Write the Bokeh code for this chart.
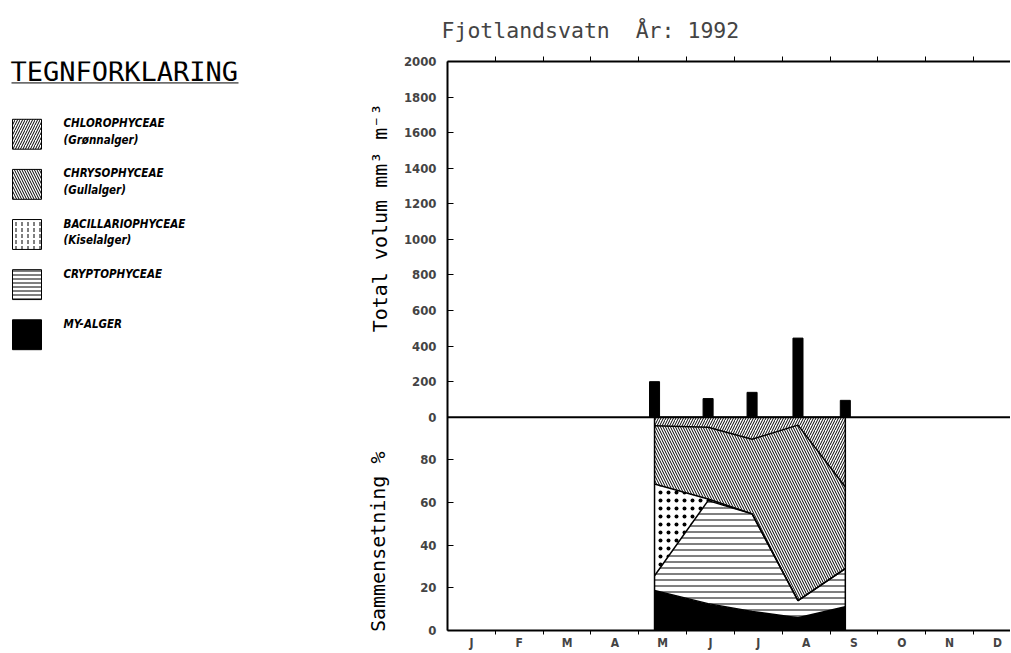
import math
from bokeh.plotting import figure
from bokeh.layouts import row
from bokeh.models import Range1d, FixedTicker, Span, ColumnDataSource, LinearAxis
from bokeh.core.properties import value
from bokeh.embed import file_html
from bokeh.resources import INLINE

# ---------------- data ----------------
month_labels = ["J", "F", "M", "A", "M", "J", "J", "A", "S", "O", "N", "D"]
# sampling dates, in months from 1 January
sample_month = [4.33, 5.45, 6.37, 7.33, 8.32]
# total algal volume, mm3 m-3
total_volume = [200, 105, 140, 445, 95]
# composition, percent (bottom to top of stack)
my_alger = [18.8, 12.6, 8.9, 6.0, 11.2]
cryptophyceae = [6.9, 48.3, 45.8, 8.0, 17.8]
bacillariophyceae = [43.0, 0.8, 0.0, 0.0, 0.0]
chrysophyceae = [27.3, 33.6, 35.0, 82.3, 38.3]
chlorophyceae = [4.0, 4.7, 10.3, 3.7, 32.7]

vol_ticks = list(range(0, 2001, 200))
pct_ticks = [0, 20, 40, 60, 80]

legend_title = "TEGNFORKLARING"
legend_line1 = ["CHLOROPHYCEAE", "CHRYSOPHYCEAE", "BACILLARIOPHYCEAE", "CRYPTOPHYCEAE", "MY-ALGER"]
legend_line2 = ["(Grønnalger)", "(Gullalger)", "(Kiselalger)", "", ""]

title_text = "Fjotlandsvatn\u00a0\u00a0År:\u00a01992"
vol_label = "Total volum mm³ m⁻³"
pct_label = "Sammensetning %"

# ---------------- styles / layout ----------------
MONO = "DejaVu Sans Mono"
NARROW = "'Liberation Sans Narrow', 'DejaVu Sans Condensed', 'DejaVu Sans', sans-serif"
fills = ["black", "white", "white", "white", "white"]
hatches = [" ", "-", ".", "\\", "/"]
hscales = [6, 6, 8, 5, 5]
hweights = [1, 1, 1.0, 1, 1]

LEFT_W = 400          # legend + axis-title panel width
BORDER_L = 46         # chart left border (tick labels)
FRAME_W = 564
TOP_B, TOP_H, BOT_H, BOT_B = 61, 357, 214, 20
MONTH_PX = 47.9
x_end = FRAME_W / MONTH_PX
pct_end = 100 * (TOP_H + BOT_H) / BOT_H
vol_start = -2000 * BOT_H / TOP_H
boundaries = list(range(1, 12))
centers = [i + 0.5 for i in range(12)]
FIG_H = TOP_B + TOP_H + BOT_H + BOT_B

# ---------------- legend panel (frames of a row are aligned) ----------------
leg = figure(width=LEFT_W, height=FIG_H, x_range=Range1d(0, LEFT_W),
             y_range=Range1d(TOP_B + TOP_H + BOT_H, TOP_B),
             output_backend="svg", toolbar_location=None,
             min_border_left=0, min_border_right=0,
             min_border_top=TOP_B, min_border_bottom=BOT_B)
leg.axis.visible = False
leg.grid.visible = False
leg.outline_line_color = None

leg.text(x=[10], y=[71], text=[legend_title], text_font=value(MONO), text_font_size="27px",
         text_baseline="middle", text_color="black")
leg.segment(x0=[11], y0=[82.5], x1=[238], y1=[82.5], line_color="black", line_width=1)

sw_top = [119 + 50.3 * i for i in range(5)]
leg_order = [4, 3, 2, 1, 0]  # chloro, chryso, bacill, crypto, my
leg_hatch = [" ", "-", ":", "\\", "/"]
leg_scale = [6, 4, 6, 5, 5]
for i, top_y in enumerate(sw_top):
    k = leg_order[i]
    leg.rect(x=[26.5], y=[top_y + 15], width=29, height=30,
             fill_color=fills[k], line_color="black", line_width=1,
             hatch_pattern=leg_hatch[k], hatch_scale=leg_scale[k],
             hatch_weight=1, hatch_color="black")
    leg.text(x=[63], y=[top_y + 4], text=[legend_line1[i]], text_font=value(NARROW),
             text_font_size="11.5px", text_font_style="bold italic", text_baseline="middle")
    if legend_line2[i]:
        leg.text(x=[63], y=[top_y + 21], text=[legend_line2[i]], text_font=value(NARROW),
                 text_font_size="11.5px", text_font_style="bold italic", text_baseline="middle")

# y-axis titles (rotated), placed left of the chart's tick labels
leg.text(x=[379], y=[218], text=[vol_label], angle=math.pi / 2, text_align="center",
         text_baseline="middle", text_font=value(MONO), text_font_size="20px")
leg.text(x=[377], y=[543], text=[pct_label], angle=math.pi / 2, text_align="center",
         text_baseline="middle", text_font=value(MONO), text_font_size="20px")

# ---------------- chart (volume above, composition below) ----------------
p = figure(width=BORDER_L + FRAME_W, height=FIG_H,
           x_range=Range1d(0, x_end), y_range=Range1d(0, pct_end),
           output_backend="svg", toolbar_location=None, x_axis_location="below",
           min_border_left=BORDER_L, min_border_right=0,
           min_border_top=TOP_B, min_border_bottom=BOT_B)
p.extra_y_ranges = {"vol": Range1d(vol_start, 2000)}
p.grid.visible = False
p.outline_line_color = None

p.title.text = title_text
p.title.text_font = MONO
p.title.text_font_size = "21.5px"
p.title.text_font_style = "normal"
p.title.align = "left"
p.title.offset = -6
p.title.standoff = 28

# composition
src = ColumnDataSource(dict(x=sample_month, my=my_alger, cr=cryptophyceae,
                            ba=bacillariophyceae, chs=chrysophyceae, chl=chlorophyceae))
stackers = ["my", "cr", "ba", "chs", "chl"]
p.varea_stack(stackers, x="x", source=src, fill_color=fills, hatch_pattern=hatches,
              hatch_scale=hscales, hatch_weight=hweights, hatch_color="black")
p.vline_stack(stackers, x="x", source=src, line_color="black", line_width=1.5)
p.segment(x0=[sample_month[0], sample_month[-1]], y0=[0, 0],
          x1=[sample_month[0], sample_month[-1]], y1=[100, 100],
          line_color="black", line_width=1.5)

# total volume bars
p.vbar(x=sample_month, top=total_volume, width=0.21, fill_color="black", line_color="black",
       y_range_name="vol")
p.add_layout(Span(location=0, dimension="width", line_color="black", line_width=2,
                  y_range_name="vol"))

# one left axis carrying both scales: percent below, volume above
vol_to_pct = (pct_end - 100) / 2000
vol_pos = [100 + v * vol_to_pct for v in vol_ticks]
yb = p.yaxis[0]
yb.ticker = FixedTicker(ticks=pct_ticks + vol_pos)
overrides = {t: str(t) for t in pct_ticks}
overrides.update({pos: str(v) for pos, v in zip(vol_pos, vol_ticks)})
yb.major_label_overrides = overrides
yb.major_tick_in = 6
yb.major_tick_out = 0
yb.minor_tick_line_color = None
yb.axis_line_width = 2
yb.major_label_text_font = NARROW
yb.major_label_text_font_style = "bold"
yb.major_label_text_font_size = "13px"
yb.major_label_standoff = 11

# month axis (below)
xb = p.xaxis[0]
xb.ticker = FixedTicker(ticks=centers, minor_ticks=boundaries)
xb.major_label_overrides = {c: lab for c, lab in zip(centers, month_labels)}
xb.major_tick_out = 0
xb.major_tick_in = 0
xb.minor_tick_out = 4
xb.minor_tick_in = 0
xb.axis_line_width = 2
xb.major_label_text_font = NARROW
xb.major_label_text_font_style = "bold"
xb.major_label_text_font_size = "12px"
xb.major_label_standoff = 1

# top axis: ticks only
xt = LinearAxis(ticker=FixedTicker(ticks=boundaries))
xt.major_tick_out = 5
xt.major_tick_in = 0
xt.minor_tick_line_color = None
xt.axis_line_width = 2
xt.major_label_text_color = None
xt.major_label_text_font_size = "2px"
xt.major_label_standoff = 0
p.add_layout(xt, "above")

layout = row(leg, p, spacing=0)
open("out.html", "w").write(file_html(layout, INLINE))
